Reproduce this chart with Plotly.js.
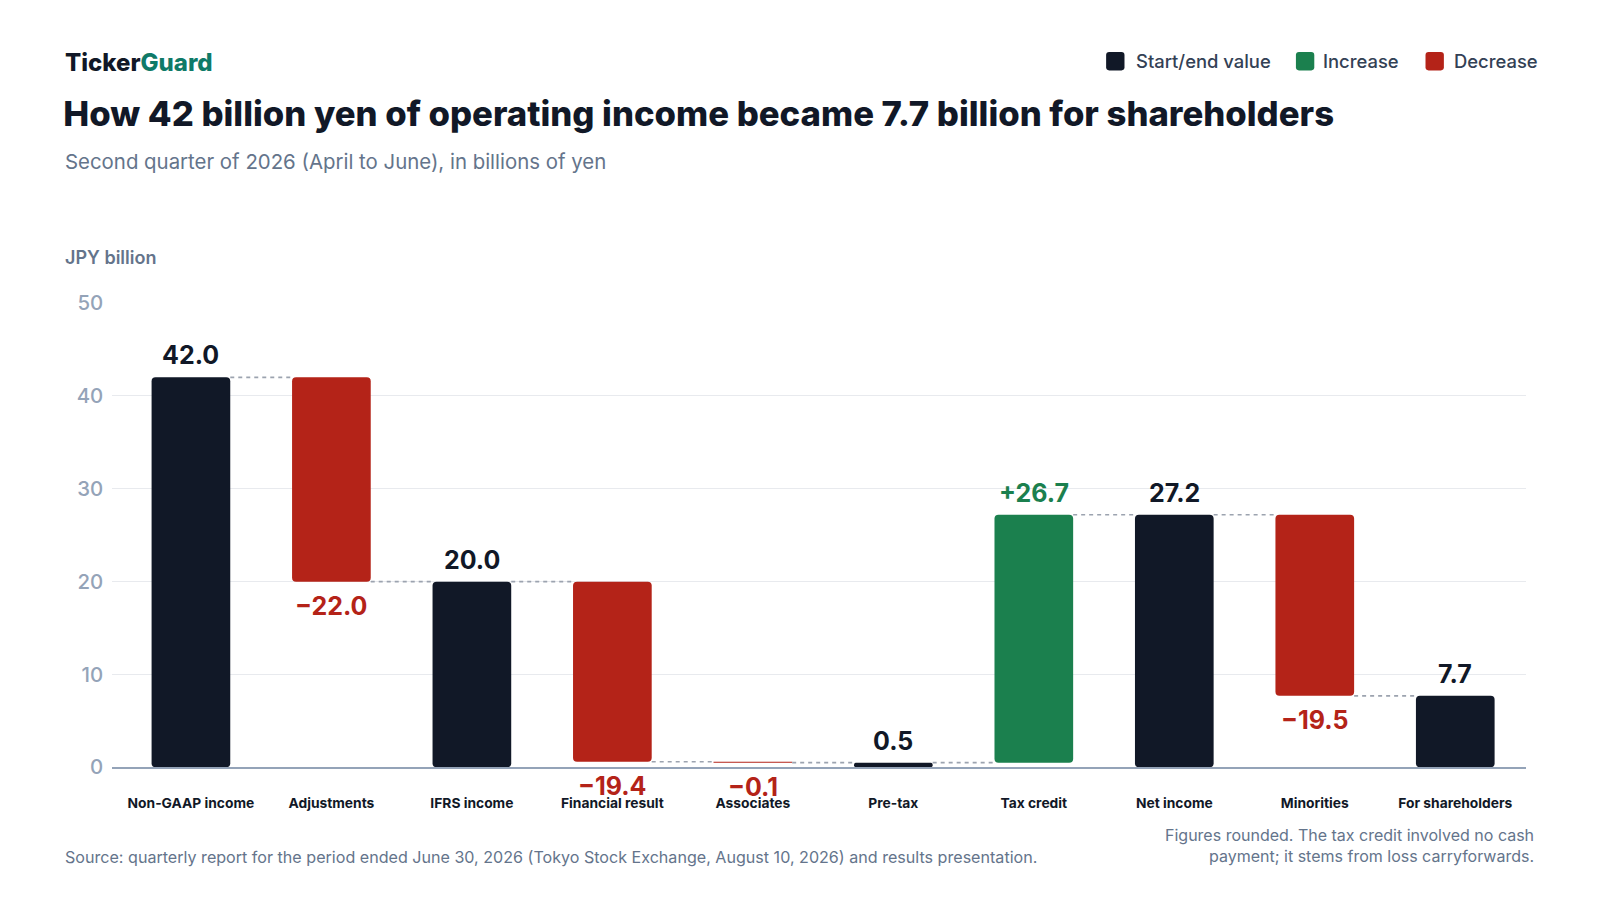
<!DOCTYPE html>
<html>
<head>
<meta charset="utf-8">
<script src="https://cdn.plot.ly/plotly-3.0.1.min.js"></script>
<style>
html, body { margin: 0; padding: 0; background: #ffffff; }
#chart { width: 1600px; height: 900px; }
</style>
</head>
<body>
<div id="chart"></div>
<script>
// operating income -> shareholders bridge, drawn as a waterfall from base+delta bars

var categories = ['Non-GAAP income', 'Adjustments', 'IFRS income', 'Financial result', 'Associates',
                  'Pre-tax', 'Tax credit', 'Net income', 'Minorities', 'For shareholders'];
var values = [42.0, -22.0, 20.0, -19.4, -0.1, 0.5, 26.7, 27.2, -19.5, 7.7];
var kinds = ['total', 'delta', 'total', 'delta', 'delta', 'total', 'delta', 'total', 'delta', 'total'];
var legendNames = ['Start/end value', 'Increase', 'Decrease'];
var yTicks = [0, 10, 20, 30, 40, 50];

var DARK = '#111827', GREEN = '#1b804e', RED = '#b42318';
var FONT = 'Inter, "Noto Sans", sans-serif';
var BAR_W = 0.56;

// layout was measured on a 1568px wide view of the page, so scale up
var S = 1600 / 1568;
function px(x) { return x * S / 1600; }
function py(y) { return 1 - y * S / 900; }
function fs(s) { return Math.round(s * S * 10) / 10; }

function fmt(v, sign) {
    var s = Math.abs(v).toFixed(1);
    if (v < 0) return '\u2212' + s;
    return (sign ? '+' : '') + s;
}

var xs = [], levels = [];
var totY = [], totB = [];
var upY = [], upB = [];
var dnY = [], dnB = [];
var running = 0;
var i;
for (i = 0; i < values.length; i++) {
    xs.push(i);
    var v = values[i];
    totY.push(null); totB.push(null);
    upY.push(null); upB.push(null);
    dnY.push(null); dnB.push(null);
    if (kinds[i] == 'total') {
        totY[i] = v; totB[i] = 0;
        running = v;
    } else if (v >= 0) {
        upY[i] = v; upB[i] = running;
        running += v;
    } else {
        dnY[i] = v; dnB[i] = running;
        running += v;
    }
    levels.push(running);
}

function barTrace(name, y, base, color) {
    return {
        type: 'bar',
        name: name,
        x: xs,
        y: y,
        base: base,
        width: BAR_W,
        marker: {color: color, cornerradius: 4, line: {width: 0}},
        hoverinfo: 'skip',
        showlegend: false
    };
}

var trace = [
    barTrace(legendNames[0], totY, totB, DARK),
    barTrace(legendNames[1], upY, upB, GREEN),
    barTrace(legendNames[2], dnY, dnB, RED)
];

// dashed connectors between neighbouring bars
var cx = [], cy = [];
for (i = 0; i < values.length - 1; i++) {
    cx.push(i + BAR_W / 2, i + 1 - BAR_W / 2, null);
    cy.push(levels[i], levels[i], null);
}
trace.push({
    type: 'scatter',
    mode: 'lines',
    x: cx,
    y: cy,
    line: {color: '#9ca3af', width: 1.7, dash: '4px,4px'},
    hoverinfo: 'skip',
    showlegend: false,
    cliponaxis: false
});

var shapes = [], annotations = [];

// value labels: above the bar end for totals/increases, below for decreases
for (i = 0; i < values.length; i++) {
    var isTotal = kinds[i] == 'total';
    var col = isTotal ? DARK : (values[i] >= 0 ? GREEN : RED);
    annotations.push({
        xref: 'x', yref: 'y', x: xs[i], y: levels[i],
        yanchor: 'middle', xanchor: 'center', showarrow: false,
        yshift: values[i] >= 0 ? fs(21.5) : -fs(23.5),
        text: fmt(values[i], !isTotal),
        font: {family: FONT, size: fs(24.5), color: col, weight: 700}
    });
}

// legend drawn by hand (rounded squares + labels)
var legendColors = [DARK, GREEN, RED];
var legendX = [1084, 1270, 1397];
var legendTextX = [1112, 1296, 1424];
for (i = 0; i < legendNames.length; i++) {
    var x0 = legendX[i], x1 = x0 + 18, y0 = 51, y1 = 69, r = 3;
    shapes.push({
        type: 'path', xref: 'paper', yref: 'paper',
        path: 'M' + px(x0 + r) + ',' + py(y0) + ' L' + px(x1 - r) + ',' + py(y0) +
              ' Q' + px(x1) + ',' + py(y0) + ' ' + px(x1) + ',' + py(y0 + r) +
              ' L' + px(x1) + ',' + py(y1 - r) +
              ' Q' + px(x1) + ',' + py(y1) + ' ' + px(x1 - r) + ',' + py(y1) +
              ' L' + px(x0 + r) + ',' + py(y1) +
              ' Q' + px(x0) + ',' + py(y1) + ' ' + px(x0) + ',' + py(y1 - r) +
              ' L' + px(x0) + ',' + py(y0 + r) +
              ' Q' + px(x0) + ',' + py(y0) + ' ' + px(x0 + r) + ',' + py(y0) + ' Z',
        fillcolor: legendColors[i], line: {width: 0}
    });
    annotations.push({
        xref: 'paper', yref: 'paper', x: px(legendTextX[i] - 1), y: py(60),
        xanchor: 'left', yanchor: 'middle', showarrow: false,
        text: legendNames[i],
        font: {family: FONT, size: fs(18), color: '#334155', weight: 500}
    });
}

annotations.push(
    {xref: 'paper', yref: 'paper', x: px(62), y: py(61), xanchor: 'left', yanchor: 'middle', showarrow: false,
     text: 'Ticker<span style="color:#0f7a68">Guard</span>',
     font: {family: FONT, size: fs(23.5), color: DARK, weight: 800}},
    {xref: 'paper', yref: 'paper', x: px(62), y: py(158), xanchor: 'left', yanchor: 'middle', showarrow: false,
     text: 'Second quarter of 2026 (April to June), in billions of yen',
     font: {family: FONT, size: fs(20), color: '#64748b'}},
    {xref: 'paper', yref: 'paper', x: px(62), y: py(252), xanchor: 'left', yanchor: 'middle', showarrow: false,
     text: 'JPY billion',
     font: {family: FONT, size: fs(17.6), color: '#64748b', weight: 600}},
    {xref: 'paper', yref: 'paper', x: px(62), y: py(840), xanchor: 'left', yanchor: 'middle', showarrow: false,
     text: 'Source: quarterly report for the period ended June 30, 2026 (Tokyo Stock Exchange, August 10, 2026) and results presentation.',
     font: {family: FONT, size: fs(15.8), color: '#64748b'}},
    {xref: 'paper', yref: 'paper', x: px(1505), y: py(829), xanchor: 'right', yanchor: 'middle', showarrow: false,
     align: 'right',
     text: 'Figures rounded. The tax credit involved no cash<br>payment; it stems from loss carryforwards.',
     font: {family: FONT, size: fs(15.7), color: '#64748b'}}
);

var layout = {
    width: 1600,
    height: 900,
    margin: {l: 0, r: 0, t: 0, b: 0, pad: 0},
    paper_bgcolor: '#ffffff',
    plot_bgcolor: '#ffffff',
    barmode: 'overlay',
    showlegend: false,
    hovermode: false,
    font: {family: FONT},
    title: {
        text: 'How 42 billion yen of operating income became 7.7 billion for shareholders',
        xref: 'container', yref: 'container',
        x: px(62), xanchor: 'left', y: py(112), yanchor: 'middle',
        font: {family: FONT, size: fs(34), color: DARK, weight: 800}
    },
    xaxis: {
        domain: [px(110), px(1495)],
        range: [-0.56, 9.5],
        tickmode: 'array',
        tickvals: xs,
        ticktext: categories,
        showgrid: false,
        zeroline: false,
        showline: true,
        linecolor: '#94a3b8',
        linewidth: 2,
        ticks: '',
        ticklabelstandoff: 22,
        tickfont: {family: FONT, size: fs(13.5), color: DARK, weight: 700},
        automargin: false,
        fixedrange: true
    },
    yaxis: {
        domain: [py(752), py(297)],
        range: [0, 50],
        tickmode: 'array',
        tickvals: yTicks,
        showgrid: true,
        gridcolor: '#e8eaee',
        gridwidth: 1,
        zeroline: false,
        showline: false,
        ticks: '',
        ticklabelstandoff: 8,
        tickfont: {family: FONT, size: fs(20), color: '#94a3b8', weight: 500},
        automargin: false,
        fixedrange: true
    },
    shapes: shapes,
    annotations: annotations
};

Plotly.newPlot('chart', trace, layout, {displayModeBar: false, staticPlot: true});
</script>
</body>
</html>
